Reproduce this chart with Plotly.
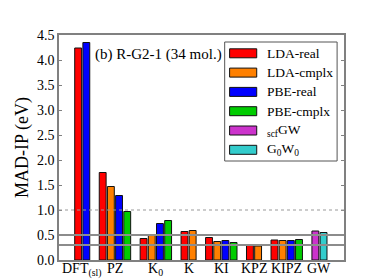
import plotly.graph_objects as go

# ---- data ----
categories = ["DFT<sub>(sl)</sub>", "PZ", "K<sub>0</sub>", "K", "KI", "KPZ", "KIPZ", "GW"]
series_names = ["LDA-real", "LDA-cmplx", "PBE-real", "PBE-cmplx", "<sub>scf</sub>GW", "G<sub>0</sub>W<sub>0</sub>"]
lda_real = [4.24, 1.75, 0.43, 0.57, 0.45, 0.29, 0.40, None]
lda_cmplx = [None, 1.47, 0.49, 0.59, 0.37, 0.28, 0.39, None]
pbe_real = [4.35, 1.29, 0.73, None, 0.39, None, 0.39, None]
pbe_cmplx = [None, 0.97, 0.79, None, 0.35, None, 0.41, None]
scf_gw = [None, None, None, None, None, None, None, 0.58]
g0w0 = [None, None, None, None, None, None, None, 0.55]
y_ticks = [0.0, 0.5, 1.0, 1.5, 2.0, 2.5, 3.0, 3.5, 4.0, 4.5]
ref_solid = [0.5, 0.3]
ref_dotted = [1.0]

# ---- style ----
colors = ["#ff0000", "#ff8000", "#0000ff", "#00cc00", "#cc33cc", "#33cccc"]
all_series = [lda_real, lda_cmplx, pbe_real, pbe_cmplx, scf_gw, g0w0]
group_gap_after = {1: 0.25}  # extra space after PZ
group_pos = []
p = 0.0
for i in range(len(categories)):
    group_pos.append(p)
    p += 1.0 + group_gap_after.get(i, 0.0)
step = 0.25
bw = 0.21
FONT = "Liberation Serif"

# compute bar x positions per group (only bars that exist)
xs = [[None] * len(categories) for _ in all_series]
for g in range(len(categories)):
    present = [s for s in range(len(all_series)) if all_series[s][g] is not None]
    n = len(present)
    for k, s in enumerate(present):
        xs[s][g] = group_pos[g] + (k - (n - 1) / 2) * step

fig = go.Figure()
for s, vals in enumerate(all_series):
    xx = [xs[s][g] for g in range(len(categories)) if vals[g] is not None]
    yy = [v for v in vals if v is not None]
    fig.add_trace(go.Bar(x=xx, y=yy, width=bw, name=series_names[s],
                         marker=dict(color=colors[s], line=dict(color="#111111", width=1)),
                         showlegend=False))

shapes = []
for v in ref_solid:
    shapes.append(dict(type="line", xref="paper", x0=0, x1=1, yref="y", y0=v, y1=v,
                       line=dict(color="#8c8c8c", width=2), layer="above"))
for v in ref_dotted:
    shapes.append(dict(type="line", xref="paper", x0=0, x1=1, yref="y", y0=v, y1=v,
                       line=dict(color="#999999", width=1, dash="dot"), layer="above"))

# manual legend
L, R, T, B = 47, 336, 27, 252
def px(x):
    return (x - L) / (R - L)
def py(y):
    return (B - y) / (B - T)

shapes.append(dict(type="rect", xref="paper", yref="paper", x0=px(215), x1=px(329),
                   y0=py(153), y1=py(34), line=dict(color="#555555", width=1),
                   fillcolor="white", layer="above"))
annotations = []
for i, name in enumerate(series_names):
    cy = 45.3 + i * 19.3
    shapes.append(dict(type="rect", xref="paper", yref="paper", x0=px(220), x1=px(247.5),
                       y0=py(cy + 4.5), y1=py(cy - 4.5), fillcolor=colors[i],
                       line=dict(color="#111111", width=1), layer="above"))
    annotations.append(dict(text=name, xref="paper", yref="paper", x=px(256), y=py(cy),
                            xanchor="left", yanchor="middle", showarrow=False,
                            font=dict(family=FONT, size=13.5, color="black")))

annotations.append(dict(text="(b) R-G2-1 (34 mol.)", xref="paper", yref="paper",
                        x=px(81), y=py(46.5), xanchor="left", yanchor="middle",
                        showarrow=False, font=dict(family=FONT, size=15, color="black")))

# category labels under the axis
for g, lab in enumerate(categories):
    annotations.append(dict(text=lab, xref="x", yref="paper", x=group_pos[g], y=0,
                            xanchor="center", yanchor="top", yshift=1, showarrow=False,
                            font=dict(family=FONT, size=14, color="black")))

fig.update_layout(
    width=374, height=280,
    margin=dict(l=L, r=374 - R, t=T, b=280 - B),
    paper_bgcolor="white", plot_bgcolor="white",
    barmode="overlay",
    font=dict(family=FONT, size=14, color="black"),
    shapes=shapes, annotations=annotations,
    xaxis=dict(range=[-0.71, 8.0], showticklabels=False,
               showgrid=False, zeroline=False, showline=True, mirror=True,
               linecolor="#808080", linewidth=1.5, ticks=""),
    yaxis=dict(range=[0, 4.5], tickvals=y_ticks, tickformat=".1f",
               showgrid=False, zeroline=False, showline=True, mirror="ticks",
               linecolor="#808080", linewidth=1.5, ticks="inside", ticklen=3,
               tickcolor="#808080",
               tickfont=dict(family=FONT, size=14, color="black"),
               title=dict(text="MAD-IP (eV)", font=dict(family=FONT, size=18, color="black"),
                          standoff=4)),
)

fig.write_html("out.html")
